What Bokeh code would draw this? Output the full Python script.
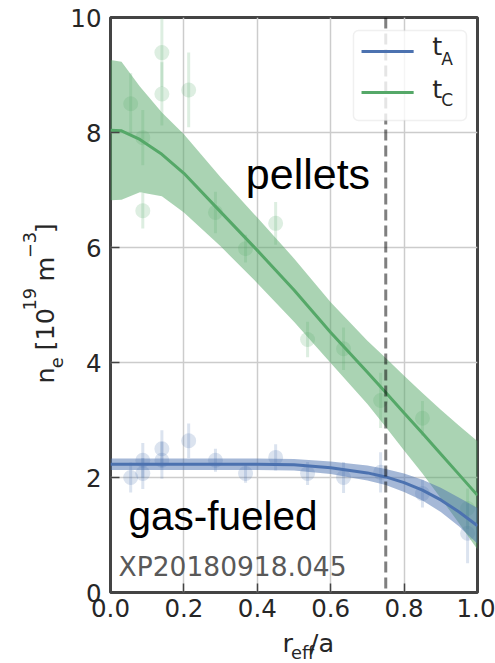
import math
from bokeh.plotting import figure
from bokeh.layouts import row, column
from bokeh.models import Span, Label, BoxAnnotation, FixedTicker, PrintfTickFormatter, ColumnDataSource
from bokeh.embed import file_html
from bokeh.resources import INLINE

# ---------------- data ----------------
pt_x = [0.055, 0.088, 0.088, 0.14, 0.14, 0.213, 0.286, 0.368, 0.45, 0.537, 0.635, 0.736, 0.85, 0.973]
green_pts = [8.50, 7.91, 6.64, 9.39, 8.67, 8.74, 6.61, 5.98, 6.42, 4.40, 4.24, 3.34, 3.03, 1.46]
green_err = [0.53, 0.48, 0.31, 0.60, 0.55, 0.65, 0.36, 0.24, 0.37, 0.31, 0.37, 0.48, 0.30, 0.35]
blue_pts = [2.00, 2.07, 2.30, 2.30, 2.50, 2.64, 2.30, 2.07, 2.35, 2.07, 2.00, 2.09, 1.72, 1.03]
blue_err = [0.26, 0.27, 0.30, 0.32, 0.32, 0.30, 0.20, 0.16, 0.23, 0.20, 0.27, 0.35, 0.24, 0.52]

fit_x = [0, 0.03, 0.08, 0.14, 0.2, 0.3, 0.4, 0.5, 0.6, 0.7, 0.75, 0.8, 0.85, 0.9, 0.95, 1.0]
green_mean = [8.04, 8.03, 7.88, 7.62, 7.29, 6.62, 5.95, 5.26, 4.52, 3.83, 3.48, 3.12, 2.77, 2.41, 2.05, 1.69]
green_upper = [9.26, 9.23, 8.80, 8.35, 7.97, 7.22, 6.52, 5.81, 5.05, 4.38, 4.08, 3.77, 3.47, 3.18, 2.90, 2.63]
green_lower = [6.82, 6.83, 6.96, 6.89, 6.61, 6.02, 5.38, 4.71, 3.99, 3.28, 2.88, 2.47, 2.07, 1.64, 1.20, 0.75]
blue_mean = [2.23, 2.23, 2.23, 2.23, 2.23, 2.23, 2.23, 2.22, 2.17, 2.08, 2.01, 1.91, 1.78, 1.61, 1.40, 1.16]
blue_upper = [2.33, 2.33, 2.33, 2.33, 2.33, 2.33, 2.33, 2.32, 2.28, 2.21, 2.15, 2.07, 1.96, 1.82, 1.65, 1.47]
blue_lower = [2.13, 2.13, 2.13, 2.13, 2.13, 2.13, 2.13, 2.12, 2.06, 1.95, 1.87, 1.75, 1.60, 1.40, 1.15, 0.85]

x_ticks = [0.0, 0.2, 0.4, 0.6, 0.8, 1.0]
y_ticks = [0, 2, 4, 6, 8, 10]
lcfs = 0.75
series_names = ["A", "C"]

BLUE = "#4C72B0"
GREEN = "#55A868"
DARK = "#262626"
SPINE = "#444444"
DV = "DejaVu Sans"
HELV = "Liberation Sans"
MAIN_FS = "25.5px"
SUB_FS = "17.8px"


def text(**kw):
    kw.setdefault("text_color", DARK)
    return Label(**kw)


# ---------------- main plot ----------------
p = figure(width=429, height=627, x_range=(0, 1), y_range=(0, 10), title=None,
           output_backend="svg", toolbar_location=None,
           min_border_left=44, min_border_right=18, min_border_top=17, min_border_bottom=35)
p.background_fill_color = "white"
p.border_fill_color = "white"
p.outline_line_color = SPINE
p.outline_line_width = 3

for ax, ticks, fmt in ((p.xaxis[0], x_ticks, "%.1f"), (p.yaxis[0], y_ticks, "%d")):
    ax.ticker = FixedTicker(ticks=ticks)
    ax.formatter = PrintfTickFormatter(format=fmt)
    ax.axis_line_color = None
    ax.major_tick_in = 9
    ax.major_tick_out = 0
    ax.minor_tick_in = 0
    ax.minor_tick_out = 0
    ax.major_tick_line_color = SPINE
    ax.major_tick_line_width = 1.5
    ax.major_label_text_font = DV
    ax.major_label_text_font_size = "24.5px"
    ax.major_label_text_color = DARK
p.xaxis.major_label_standoff = 6
p.yaxis.major_label_standoff = 9

p.xgrid.ticker = FixedTicker(ticks=x_ticks)
p.ygrid.ticker = FixedTicker(ticks=y_ticks)
p.grid.grid_line_color = "#cccccc"
p.grid.grid_line_width = 1.5


def lo(v, e):
    return [a - b for a, b in zip(v, e)]


def hi(v, e):
    return [a + b for a, b in zip(v, e)]


p.segment(x0=pt_x, x1=pt_x, y0=lo(green_pts, green_err), y1=hi(green_pts, green_err),
          line_color=GREEN, line_alpha=0.2, line_width=3)
p.scatter(pt_x, green_pts, size=15, fill_color=GREEN, fill_alpha=0.2, line_color=None)
p.segment(x0=pt_x, x1=pt_x, y0=lo(blue_pts, blue_err), y1=hi(blue_pts, blue_err),
          line_color=BLUE, line_alpha=0.2, line_width=3)
p.scatter(pt_x, blue_pts, size=15, fill_color=BLUE, fill_alpha=0.2, line_color=None)

p.varea(x=fit_x, y1=green_lower, y2=green_upper, fill_color=GREEN, fill_alpha=0.5)
p.line(fit_x, green_mean, line_color=GREEN, line_width=3)
p.varea(x=fit_x, y1=blue_lower, y2=blue_upper, fill_color=BLUE, fill_alpha=0.5)
p.line(fit_x, blue_mean, line_color=BLUE, line_width=3)

p.add_layout(Span(location=lcfs, dimension="height", line_color="black", line_alpha=0.5,
                  line_width=3, line_dash="11 5"))

p.add_layout(text(x=0.538, y=6.868, text="pellets", text_font=HELV, text_align="center",
                  text_font_size="43px", text_color="black"))
p.add_layout(text(x=0.3065, y=0.929, text="gas-fueled", text_font=HELV, text_align="center",
                  text_font_size="40.5px", text_color="black"))
p.add_layout(text(x=0.022, y=0.187, text="XP20180918.045", text_font=DV,
                  text_font_size="26.5px", text_color="#595959"))

# legend
p.add_layout(BoxAnnotation(left=0.662, right=0.970, bottom=8.209, top=9.774,
                           fill_color="white", fill_alpha=0.8, line_color="#cccccc",
                           line_width=1.5, border_radius=5))
leg = ColumnDataSource(dict(x0=[0.684, 0.684], x1=[0.826, 0.826], y=[9.409, 8.696], c=[BLUE, GREEN]))
r = p.segment(x0="x0", x1="x1", y0="y", y1="y", line_color="c", line_width=3, source=leg)
r.level = "overlay"
for yb, ys, sub in zip((9.235, 8.504), (9.113, 8.383), series_names):
    p.add_layout(text(x=0.877, y=yb, text="t", text_font=DV, text_font_size=MAIN_FS))
    p.add_layout(text(x=0.901, y=ys, text=sub, text_font=DV, text_font_size="17px"))


# ---------------- y label strip (pixel coordinates, y up) ----------------
def strip(w, h, x0, x1):
    f = figure(width=w, height=h, x_range=(x0, x1), y_range=(0, h), x_axis_type=None, y_axis_type=None,
               title=None, output_backend="svg", toolbar_location=None, min_border=0)
    f.outline_line_color = None
    f.background_fill_color = "white"
    f.border_fill_color = "white"
    return f


yl = strip(66, 663, 0, 66)
ypieces = [("n", 59, 280.0, MAIN_FS), ("e", 62.2, 295.2, SUB_FS),
           ("[10", 59, 313.1, MAIN_FS), ("19", 35.2, 353.0, SUB_FS),
           ("m", 59, 382.0, MAIN_FS), ("\u22123", 35.2, 405.4, SUB_FS),
           ("]", 59, 430.2, MAIN_FS)]
for t, xx, yy, fs in ypieces:
    yl.add_layout(text(x=xx, y=yy, text=t, angle=math.pi / 2, text_font=DV, text_font_size=fs))

# ---------------- x label strip ----------------
xl = strip(429, 36, 66, 495)
xpieces = [("r", 267, 5.5, MAIN_FS), ("eff", 277, 0.3, SUB_FS), ("/a", 299, 5.5, MAIN_FS)]
for t, xx, yy, fs in xpieces:
    xl.add_layout(text(x=xx, y=yy, text=t, text_font=DV, text_font_size=fs))

layout = row(yl, column(p, xl, spacing=0), spacing=0)
open("out.html", "w").write(file_html(layout, INLINE))
